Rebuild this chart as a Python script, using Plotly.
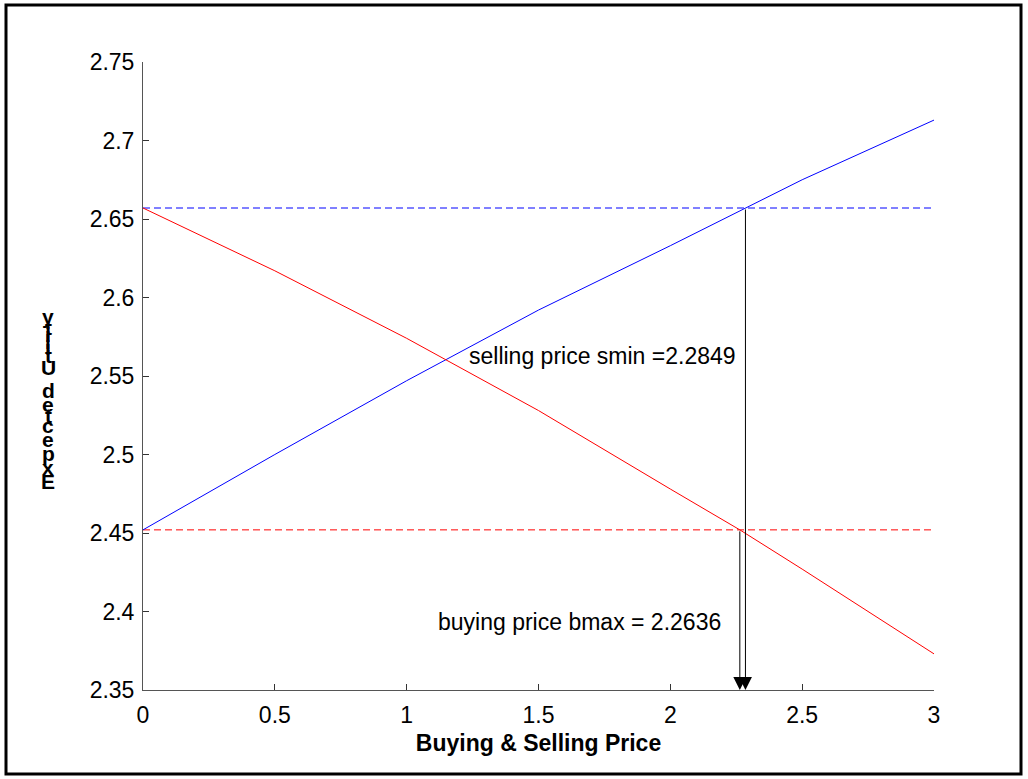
import plotly.graph_objects as go

# ---- data ----
price = [0, 0.5, 1, 1.5, 2, 2.2849, 2.5, 3]
sell_utility = [2.452, 2.500, 2.547, 2.592, 2.633, 2.657, 2.675, 2.713]
price_b = [0, 0.5, 1, 1.5, 2, 2.2636, 2.5, 3]
buy_utility = [2.657, 2.617, 2.574, 2.528, 2.478, 2.452, 2.427, 2.373]
smin = 2.2849
bmax = 2.2636
u_sell_level = 2.657
u_buy_level = 2.452
x_ticks = [0, 0.5, 1, 1.5, 2, 2.5, 3]
x_ticklabels = ["0", "0.5", "1", "1.5", "2", "2.5", "3"]
y_ticks = [2.35, 2.4, 2.45, 2.5, 2.55, 2.6, 2.65, 2.7, 2.75]
y_ticklabels = ["2.35", "2.4", "2.45", "2.5", "2.55", "2.6", "2.65", "2.7", "2.75"]
y_label = "Expected Utility"
x_label = "Buying & Selling Price"
sell_text = "selling price smin =2.2849"
buy_text = "buying price bmax = 2.2636"

FONT = "Liberation Sans, Arial, sans-serif"
FS = 23
W, H = 1028, 779
L, R, T, B = 143, 94, 62, 89
PW, PH = W - L - R, H - T - B

fig = go.Figure()
fig.add_trace(go.Scatter(x=[x_ticks[0], x_ticks[-1]], y=[u_sell_level, u_sell_level], mode="lines",
                         line=dict(color="#0000ff", width=1, dash="7px,4px"), showlegend=False))
fig.add_trace(go.Scatter(x=[x_ticks[0], x_ticks[-1]], y=[u_buy_level, u_buy_level], mode="lines",
                         line=dict(color="#ff0000", width=1, dash="7px,4px"), showlegend=False))
fig.add_trace(go.Scatter(x=price, y=sell_utility, mode="lines",
                         line=dict(color="#0000ff", width=1), showlegend=False))
fig.add_trace(go.Scatter(x=price_b, y=buy_utility, mode="lines",
                         line=dict(color="#ff0000", width=1), showlegend=False))

annotations = []
# arrows
for xv, yv in [(smin, u_sell_level), (bmax, u_buy_level)]:
    annotations.append(dict(x=xv, y=y_ticks[0], ax=xv, ay=yv, xref="x", yref="y",
                            axref="x", ayref="y", showarrow=True, arrowhead=2,
                            arrowsize=2.6, arrowwidth=1, arrowcolor="black", text=""))
annotations.append(dict(x=2.255, y=2.563, xref="x", yref="y", text=sell_text,
                        showarrow=False, xanchor="right", yanchor="middle",
                        font=dict(family=FONT, size=FS, color="black")))
annotations.append(dict(x=2.2, y=2.393, xref="x", yref="y", text=buy_text,
                        showarrow=False, xanchor="right", yanchor="middle",
                        font=dict(family=FONT, size=FS, color="black")))

# stacked y label (upright glyphs advanced vertically, as in the reference)
adv = {"E": 0.667, "x": 0.556, "p": 0.611, "e": 0.556, "c": 0.556, "t": 0.333, "d": 0.611,
       " ": 0.278, "U": 0.722, "i": 0.278, "l": 0.278, "y": 0.556}
cum = 0.0
start_py = 490
for ch in y_label:
    w = adv.get(ch, 0.55) * 24
    if ch != " ":
        py = start_py - (cum + w / 2)
        annotations.append(dict(x=(48 - L) / PW, y=(H - B - py) / PH, xref="paper", yref="paper",
                                text="<b>%s</b>" % ch, showarrow=False, xanchor="center",
                                yanchor="middle",
                                font=dict(family="Liberation Sans Narrow, Liberation Sans, Arial",
                                          size=21, color="black")))
    cum += w

fig.update_layout(
    width=W, height=H,
    margin=dict(l=L, r=R, t=T, b=B, pad=0),
    paper_bgcolor="white", plot_bgcolor="white",
    font=dict(family=FONT, size=FS, color="black"),
    annotations=annotations,
    xaxis=dict(range=[0, 3], tickvals=x_ticks, ticktext=x_ticklabels, ticks="inside",
               ticklen=6, tickcolor="#333333", showline=True, linecolor="#555555", linewidth=1,
               showgrid=False, zeroline=False, mirror=False, ticklabelstandoff=4,
               title=dict(text="<b>%s</b>" % x_label, font=dict(family=FONT, size=FS), standoff=8),
               tickfont=dict(family=FONT, size=FS)),
    yaxis=dict(range=[2.35, 2.75], tickvals=y_ticks, ticktext=y_ticklabels, ticks="inside",
               ticklen=6, tickcolor="#333333", showline=True, linecolor="#555555", linewidth=1,
               showgrid=False, zeroline=False, mirror=False, ticklabelstandoff=3,
               tickfont=dict(family=FONT, size=FS)),
    shapes=[dict(type="rect", xref="paper", yref="paper",
                 x0=(6 - L) / PW, x1=(1021 - L) / PW, y0=(H - B - 774) / PH, y1=(H - B - 5) / PH,
                 line=dict(color="black", width=3), fillcolor="rgba(0,0,0,0)", layer="below")],
)

fig.write_html("out.html", config={"displayModeBar": False},
               post_script="document.body.style.margin='0';")
